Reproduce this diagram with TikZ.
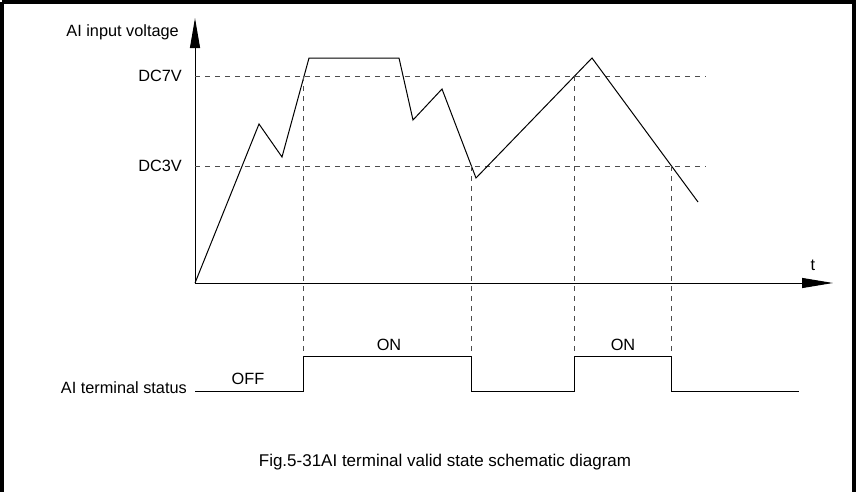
\documentclass[tikz,border=0pt]{standalone}
\usepackage{fontspec}
\setmainfont{Liberation Sans}
\usetikzlibrary{arrows.meta}
\begin{document}
\begin{tikzpicture}[x=1pt,y=-1pt,
  lbl/.style={inner sep=0pt,font=\fontsize{16.3}{19}\selectfont},
  sig/.style={line width=1pt,black,line join=miter},
  axis/.style={line width=1pt,black},
  guide/.style={line width=1pt,black!70,dash pattern=on 5pt off 5pt}]
\useasboundingbox (0,0) rectangle (859,491);
\begin{scope}
\clip (0,0) rectangle (859,491);
\draw[line width=3.5pt] (2,2) -- (2,500) (2,2) -- (854,2) -- (854,500);
\end{scope}
% axes
\coordinate (O) at (195,283);
\coordinate (Ytop) at (195,18);
\coordinate (Xend) at (833,283);
\draw[axis,-{Triangle[length=30pt,width=10pt]}] (O) -- (Ytop);
\draw[axis,-{Triangle[length=31pt,width=10pt]}] (O) -- (Xend);
\node[lbl,anchor=east] (ylab) at (179,32) {AI input voltage};
\node[lbl] (tlab) at (813,265) {t};
% thresholds
\coordinate (h7a) at (195,76); \coordinate (h7b) at (706,76);
\coordinate (h3a) at (195,166); \coordinate (h3b) at (706,166);
\draw[guide] (h7a) -- (h7b);
\draw[guide] (h3a) -- (h3b);
\node[lbl,anchor=east] (l7) at (182,76) {DC7V};
\node[lbl,anchor=east] (l3) at (182,166) {DC3V};
% voltage curve
\coordinate (p1) at (259,124);
\coordinate (p2) at (282,157);
\coordinate (p3) at (309,58);
\coordinate (p4) at (399,58);
\coordinate (p5) at (413,120);
\coordinate (p6) at (442,89);
\coordinate (p7) at (476,178);
\coordinate (p8) at (592,58);
\coordinate (p9) at (698,202);
\draw[sig] (O) -- (p1) -- (p2) -- (p3) -- (p4) -- (p5) -- (p6) -- (p7) -- (p8) -- (p9);
% status signal
\coordinate (s0) at (195,391);
\coordinate (s1) at (303,391); \coordinate (s1h) at (303,356);
\coordinate (s2h) at (471,356); \coordinate (s2) at (471,391);
\coordinate (s3) at (574,391); \coordinate (s3h) at (574,356);
\coordinate (s4h) at (671,356); \coordinate (s4) at (671,391);
\coordinate (s5) at (799,391);
\draw[sig] (s0) -- (s1) -- (s1h) -- (s2h) -- (s2) -- (s3) -- (s3h) -- (s4h) -- (s4) -- (s5);
% vertical guides
\coordinate (v1) at (303,76);
\coordinate (v2) at (471,166);
\coordinate (v3) at (574,76);
\coordinate (v4) at (671,166);
\draw[guide] (v1) -- (s1h);
\draw[guide] (v2) -- (s2h);
\draw[guide] (v3) -- (s3h);
\draw[guide] (v4) -- (s4h);
% labels
\node[lbl,anchor=east] (stat) at (187,388) {AI terminal status};
\node[lbl] (off) at (248,379) {OFF};
\node[lbl] (on1) at (389,345) {ON};
\node[lbl] (on2) at (623,345) {ON};
\node[lbl,font=\fontsize{17}{20}\selectfont] (cap) at (445,462) {Fig.5-31AI terminal valid state schematic diagram};
\end{tikzpicture}
\end{document}
